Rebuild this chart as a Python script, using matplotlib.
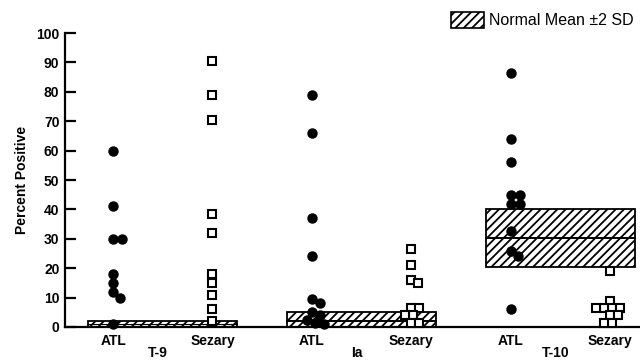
import matplotlib
matplotlib.use("Agg")
import matplotlib.pyplot as plt
from matplotlib.patches import Rectangle, Patch
import numpy as np

plt.rcParams["font.family"] = ["Liberation Sans", "DejaVu Sans"]
plt.rcParams["hatch.linewidth"] = 1.3

# category labels and groups
categories = ["ATL", "Sezary", "ATL", "Sezary", "ATL", "Sezary"]
groups = ["T-9", "Ia", "T-10"]

# percent positive values
t9_atl = [60, 41, 30, 30, 18, 15, 12, 10, 1]
t9_sezary = [90.5, 79, 70.5, 38.5, 32, 18, 15, 11, 6, 2]
ia_atl = [79, 66, 37, 24, 9.5, 8, 5, 4, 2.5, 1.5, 1]
ia_sezary = [26.5, 21, 16, 15, 6.5, 6.5, 4, 4, 1.5, 1.5]
t10_atl = [86.5, 64, 56, 45, 45, 42, 42, 32.5, 26, 24, 6]
t10_sezary = [19, 9, 6.5, 6.5, 6.5, 6.5, 4, 4, 1.5, 1.5]

# normal mean +/- 2 SD bands (low, mean, high) per group
band_low = [0, 0, 20.5]
band_mean = [0.9, 2, 30.3]
band_high = [1.9, 5.2, 40]

series = [t9_atl, t9_sezary, ia_atl, ia_sezary, t10_atl, t10_sezary]

fig = plt.figure(figsize=(6.4, 3.62), dpi=100)
ax = fig.add_axes([0.1016, 0.0967, 0.8984, 0.812])
ax.set_xlim(-0.483, 5.30)
ax.set_ylim(0, 100)

for s in ["top", "right"]:
    ax.spines[s].set_visible(False)
ax.spines["left"].set_linewidth(1.6)
ax.spines["bottom"].set_linewidth(1.6)

ax.set_yticks(np.arange(0, 101, 10))
ax.tick_params(axis="y", direction="in", length=8, width=1.6, labelsize=10, pad=4)
ax.set_xticks(range(len(categories)))
ax.set_xticklabels(categories)
ax.tick_params(axis="x", length=0, labelsize=10, pad=5)
for lab in ax.get_xticklabels() + ax.get_yticklabels():
    lab.set_fontweight("bold")

ax.set_ylabel("Percent Positive", fontsize=10, fontweight="bold", labelpad=5)

# group labels under the category labels
for i, g in enumerate(groups):
    ax.text(2 * i + 0.45, -0.09, g, transform=ax.get_xaxis_transform(),
            ha="center", va="center", fontsize=10, fontweight="bold")

# normal bands
for i in range(len(groups)):
    x0 = 2 * i - 0.25
    w = 1.5
    ax.add_patch(Rectangle((x0, band_low[i]), w, band_high[i] - band_low[i],
                           facecolor="white", edgecolor="black", hatch="////",
                           linewidth=1.3, zorder=1))
    ax.plot([x0, x0 + w], [band_mean[i], band_mean[i]], color="black",
            linewidth=1.4 if band_high[i] > 3 else 0.8, zorder=2)

# simple swarm layout in pixel space
fig.canvas.draw()
sx = ax.transData.transform((1, 0))[0] - ax.transData.transform((0, 0))[0]
sy = ax.transData.transform((0, 1))[1] - ax.transData.transform((0, 0))[1]


def swarm(vals, d):
    placed = []
    offs = []
    for v in vals:
        y = v * sy
        step = 0
        while True:
            for cand in ([step] if step == 0 else [step, -step]):
                if all((cand - px) ** 2 + (y - py) ** 2 >= d * d for px, py in placed):
                    placed.append((cand, y))
                    offs.append(cand / sx)
                    break
            else:
                step += 1
                continue
            break
    return np.array(offs)


for i, vals in enumerate(series):
    if categories[i] == "ATL":
        offs = swarm(vals, 8.5)
        ax.plot(i + offs, vals, "o", color="black", markersize=6.5,
                linestyle="none", zorder=3, clip_on=False)
    else:
        offs = swarm(vals, 7.5)
        ax.plot(i + offs, vals, "s", markerfacecolor="white",
                markeredgecolor="black", markeredgewidth=1.5, markersize=5.4,
                linestyle="none", zorder=3, clip_on=False)

handle = Patch(facecolor="white", edgecolor="black", hatch="////", linewidth=1.2)
fig.legend([handle], ["Normal Mean \u00b12 SD"], loc="upper right",
           bbox_to_anchor=(0.995, 0.975), frameon=False, fontsize=11.5,
           handlelength=2.1, handleheight=1.1, handletextpad=0.3,
           borderpad=0.2, borderaxespad=0.0)

fig.savefig("out.png", dpi=100)
